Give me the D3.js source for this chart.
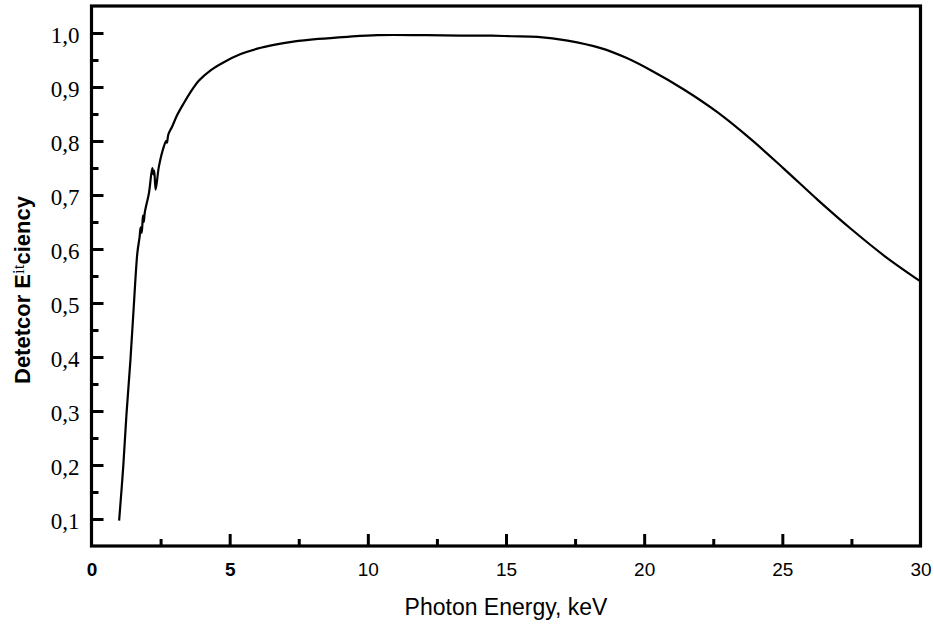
<!DOCTYPE html>
<html><head><meta charset="utf-8">
<script src="https://cdn.jsdelivr.net/npm/d3@7"></script>
<style>body{margin:0;background:#fff}svg{display:block}</style>
</head><body><svg id="c" width="934" height="625"></svg>
<script>
// ---- data ----
const energy = [1.00,1.15,1.27,1.41,1.53,1.66,1.74,1.78,1.82,1.86,1.89,1.93,2.08,2.20,2.24,2.27,2.32,2.44,2.62,2.70,2.73,2.78,2.92,3.10,3.34,3.59,3.89,4.31,4.79,5.40,6.00,6.60,7.30,8.20,9.26,10.35,11.92,13.36,14.5,15.2,16.14,17.23,18.43,19.35,20.24,21.45,22.66,23.87,25.07,26.28,27.49,28.70,30.00];
const efficiency = [0.097,0.198,0.297,0.395,0.494,0.593,0.622,0.640,0.630,0.662,0.650,0.668,0.704,0.750,0.738,0.745,0.710,0.753,0.790,0.800,0.797,0.812,0.827,0.848,0.870,0.891,0.912,0.931,0.946,0.961,0.971,0.978,0.984,0.989,0.993,0.996,0.996,0.995,0.995,0.994,0.993,0.986,0.972,0.954,0.931,0.895,0.853,0.803,0.748,0.691,0.637,0.587,0.540];
const xTicks = [0,5,10,15,20,25,30];
const xTickLabels = ["0","5","10","15","20","25","30"];
const xMinorTicks = [2.5,7.5,12.5,17.5,22.5,27.5];
const yTicks = [0.1,0.2,0.3,0.4,0.5,0.6,0.7,0.8,0.9,1.0];
const yTickLabels = ["0,1","0,2","0,3","0,4","0,5","0,6","0,7","0,8","0,9","1,0"];
const yMinorTicks = [0.15,0.25,0.35,0.45,0.55,0.65,0.75,0.85,0.95];
const xTitle = "Photon Energy, keV";

// ---- layout ----
const L = 91.5, R = 920.5, T = 6, B = 546;
const svg = d3.select("#c");
const x = d3.scaleLinear().domain([0,30]).range([L,R]);
const y = d3.scaleLinear().domain([0.05,1.05]).range([B,T]);

// y axis (ticks inward)
const yAxis = d3.axisLeft(y).tickValues(yTicks).tickSizeInner(-12).tickSizeOuter(0).tickPadding(12)
  .tickFormat((d,i)=>yTickLabels[i]);
const gy = svg.append("g").attr("transform",`translate(${L},0)`).call(yAxis);
gy.select(".domain").remove();
gy.selectAll(".tick line").attr("stroke","#000").attr("stroke-width",3);
gy.selectAll(".tick text").attr("font-family","'Liberation Serif','Times New Roman',serif")
  .attr("font-size",23).attr("fill","#000").attr("dy","0.42em");
const gym = svg.append("g").attr("transform",`translate(${L},0)`)
  .call(d3.axisLeft(y).tickValues(yMinorTicks).tickSizeInner(-7).tickSizeOuter(0).tickFormat(""));
gym.select(".domain").remove();
gym.selectAll(".tick line").attr("stroke","#000").attr("stroke-width",3);

// x axis
const xAxis = d3.axisBottom(x).tickValues(xTicks).tickSizeInner(-12).tickSizeOuter(0).tickPadding(0)
  .tickFormat((d,i)=>xTickLabels[i]);
const gx = svg.append("g").attr("transform",`translate(0,${B})`).call(xAxis);
gx.select(".domain").remove();
gx.selectAll(".tick line").attr("stroke","#000").attr("stroke-width",3)
  .attr("display",(d)=> (d===0||d===30) ? "none" : null);
gx.selectAll(".tick text").attr("font-family","'Liberation Sans',Arial,sans-serif")
  .attr("font-size",19).attr("fill","#000").attr("y",30).attr("dy",0)
  .attr("font-weight",(d)=> d<=5 ? "bold" : "normal");
const gxm = svg.append("g").attr("transform",`translate(0,${B})`)
  .call(d3.axisBottom(x).tickValues(xMinorTicks).tickSizeInner(-7).tickSizeOuter(0).tickFormat(""));
gxm.select(".domain").remove();
gxm.selectAll(".tick line").attr("stroke","#000").attr("stroke-width",3);

// frame
svg.append("rect").attr("x",L).attr("y",T).attr("width",R-L).attr("height",B-T)
  .attr("fill","none").attr("stroke","#000").attr("stroke-width",3.2);

// curve
const pts = energy.map((e,i)=>[e,efficiency[i]]);
const line = d3.line().x(d=>x(d[0])).y(d=>y(d[1])).curve(d3.curveCatmullRom.alpha(0.5));
svg.append("path").datum(pts).attr("d",line).attr("fill","none")
  .attr("stroke","#000").attr("stroke-width",2.2).attr("stroke-linejoin","round");

// titles
svg.append("text").attr("x",(L+R)/2).attr("y",615).attr("text-anchor","middle")
  .attr("font-family","'Liberation Sans',Arial,sans-serif").attr("font-size",23).attr("fill","#000")
  .text(xTitle);
const yt = svg.append("text").attr("transform","translate(30,290) rotate(-90)").attr("text-anchor","middle")
  .attr("font-family","'Liberation Sans',Arial,sans-serif").attr("font-size",22).attr("font-weight","bold").attr("fill","#000");
yt.append("tspan").text("Detetcor E");
yt.append("tspan").attr("font-family","'Liberation Serif',serif").attr("font-weight","normal").attr("font-size",17).attr("dy",-6).text("it");
yt.append("tspan").attr("dy",6).text("ciency");
</script></body></html>
